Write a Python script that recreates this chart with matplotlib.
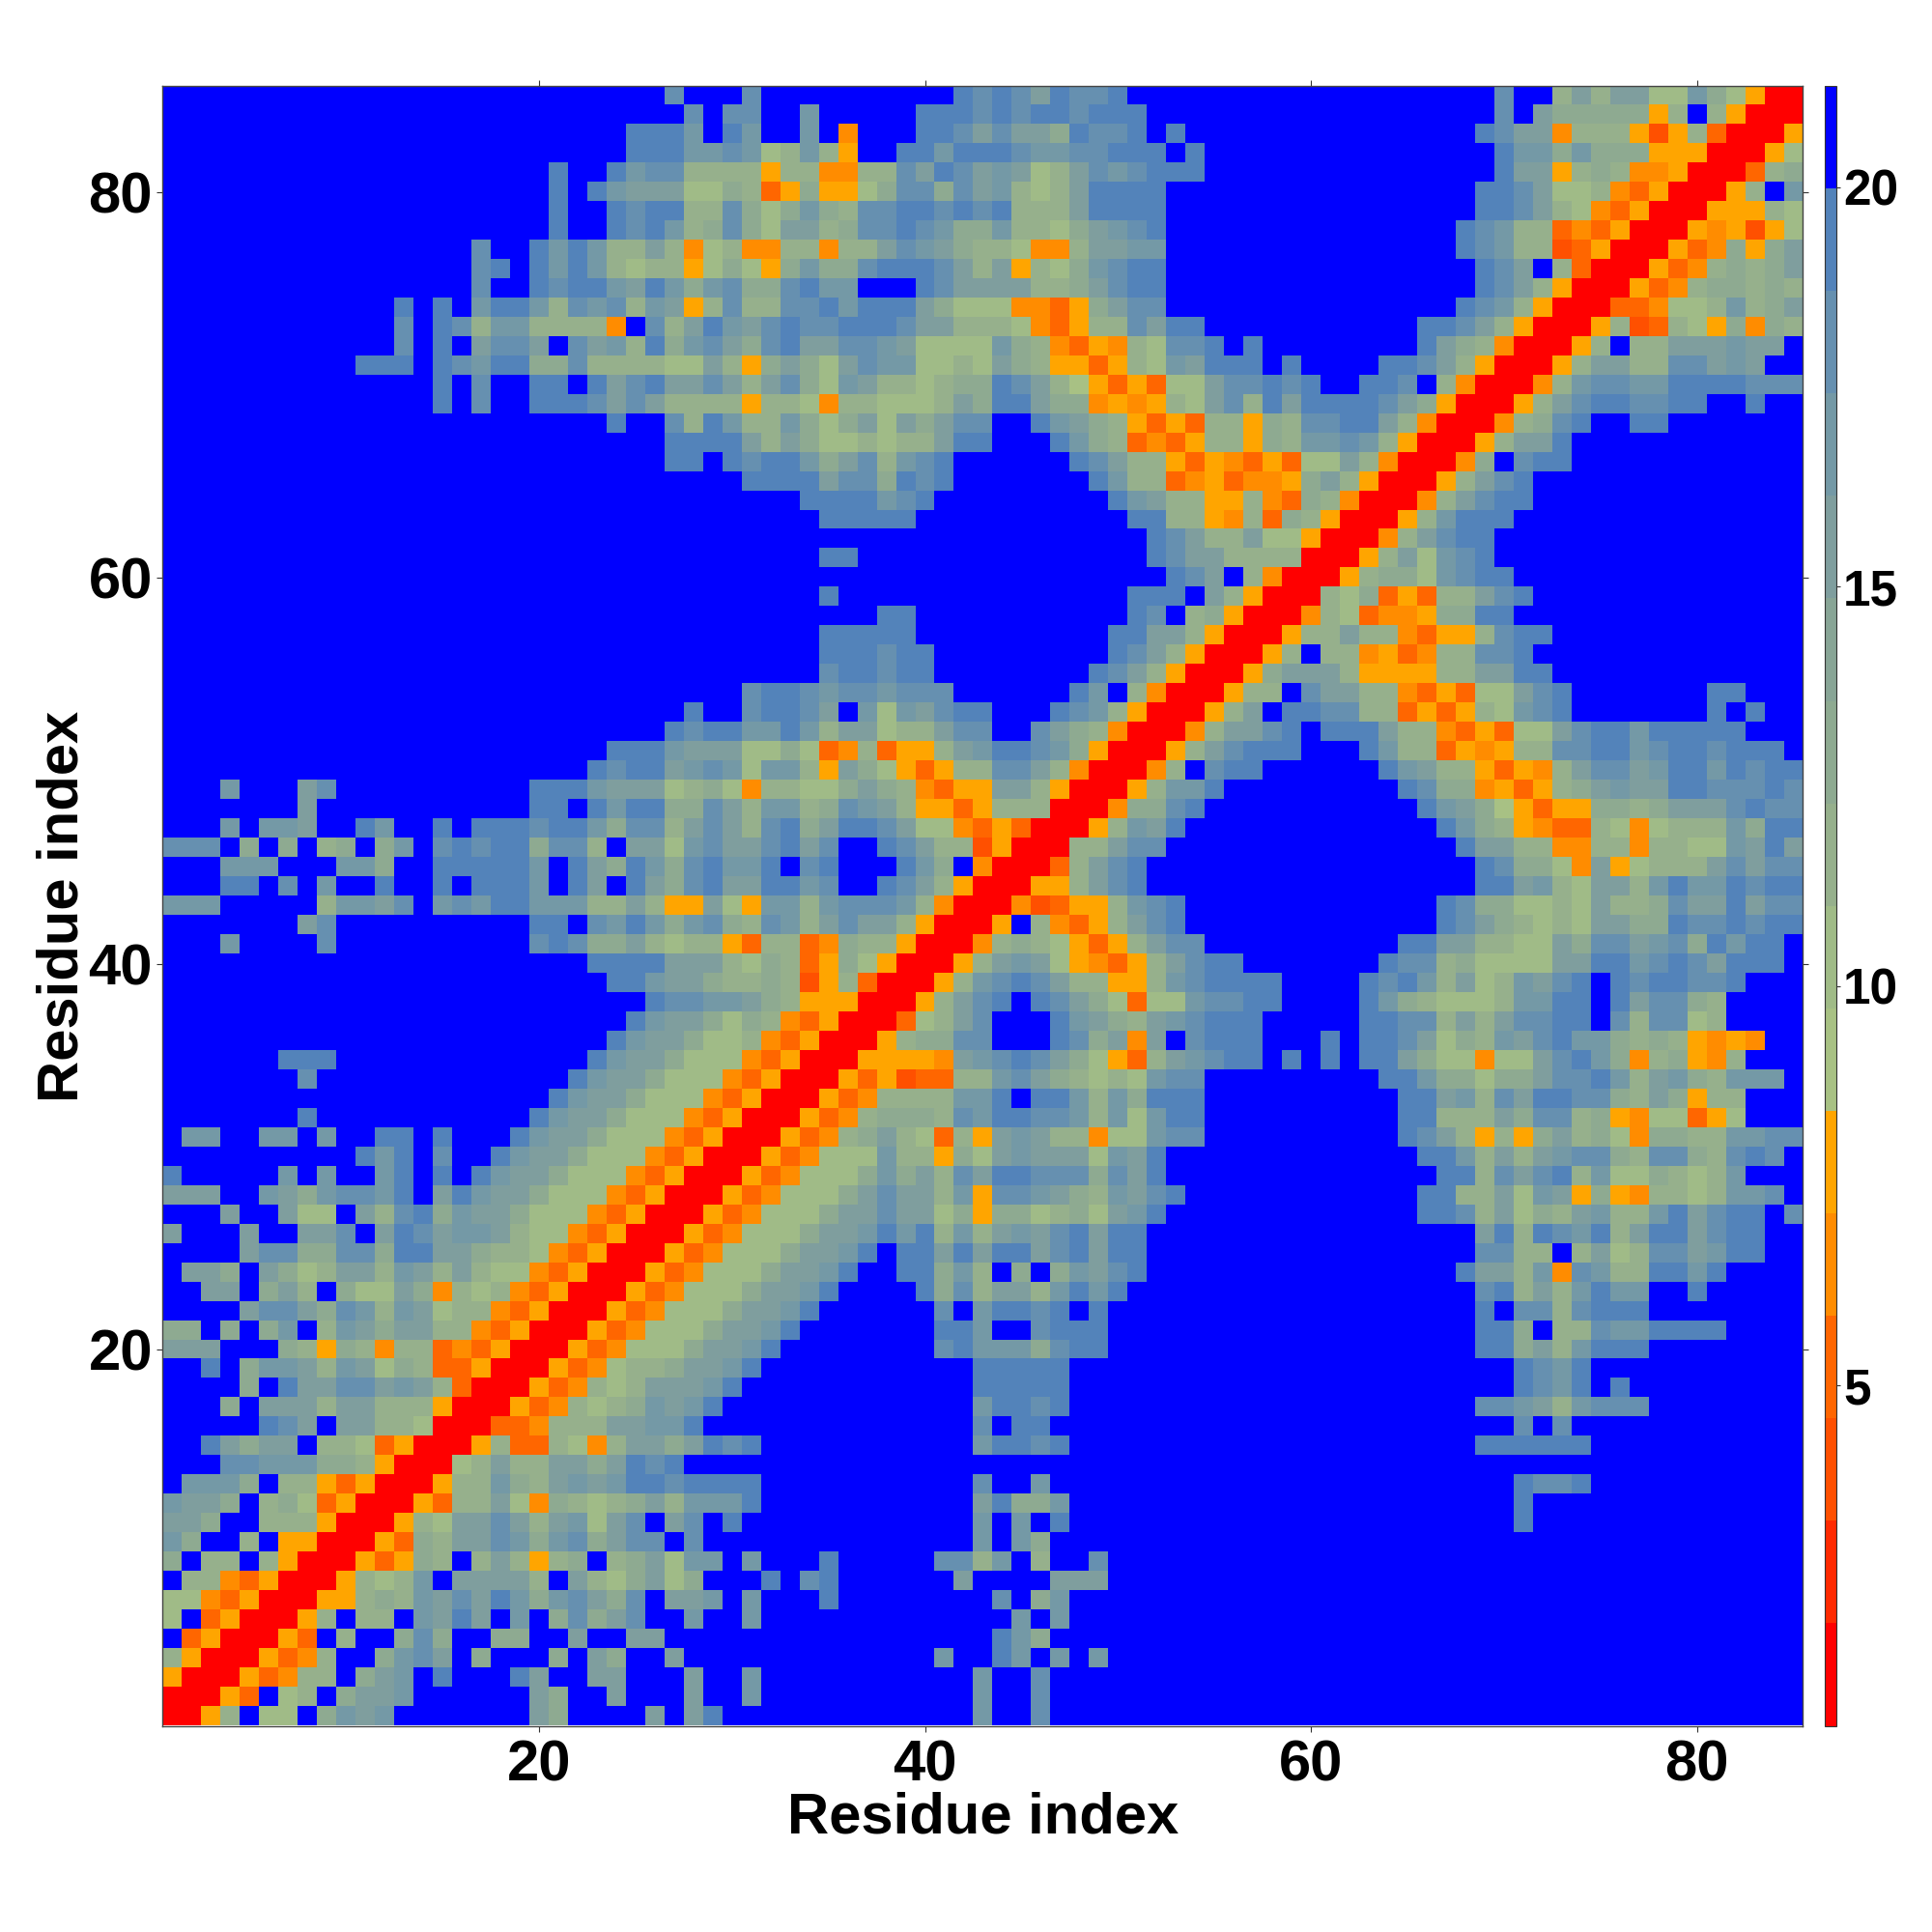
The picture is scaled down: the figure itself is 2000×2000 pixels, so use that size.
# -*- coding: utf-8 -*-
import numpy as np
import matplotlib
matplotlib.use("Agg")
import matplotlib.pyplot as plt
from matplotlib.colors import ListedColormap, BoundaryNorm

plt.rcParams['font.family'] = ['Liberation Sans', 'DejaVu Sans']
plt.rcParams['font.weight'] = 'bold'

# Data: distance classes. The map is symmetric, so only
# x <= y is kept, one string per residue y = 1 .. 85.
# r=closest, 2,3,4,e=oranges, 6,7,8,9,a,b,c,d=green to steel blue, f=beyond the scale
F = "f"
rows = [
    "r",
    "rr",
    "err",
    "8err",
    "f3err",
    "7f3err",
    "7743err",
    "f8843err",
    "9f88f8err",
    "b9ff8feerr",
    "aa9ff888er" + "r",
    "baa9f8973e" + "rr",
    "fbbb9f88e3" + "err",
    "fffccbbb99" + "8err",
    "ffda9aaf88" + "73err",
    "fffffdcafa" + "a887rr",
    "fff9faaa8a" + "a888err",
    "ffff9fdaac" + "caba83rr",
    "ffdf9bba8b" + "a79833err",
    "aaafff98e9" + "8488343err",
    "99f9f9bf8b" + "a9aa8843er" + "r",
    "ffffacca9c" + "b8ba78843e" + "rr",
    "ffaaf9a8f9" + "77a9487843" + "err",
    "faa9fa978a" + "a8ba8a8774" + "3err",
    "ffffacc99c" + "c9ddaa9887" + "43err",
    "afffaffaac" + "fadcabba87" + "743err",
    "fffaffa77f" + "a8cd9baa97" + "7743err",
    "aaaffba9bc" + "cbdfadbaa9" + "77743err",
    "dfffffbfbf" + "fbdfdfdbaa" + "977743err",
    F*10 + "dbdfcffdba" + "a977743err",
    "fbbffbbfbf" + "fddfdfffdb" + "aa977743er" + "r",
    F*7 + "dff" + F*9 + "d" + "baa977743e" + "rr",
    F*20 + "dbaa977743" + "err",
    F*7 + "cff" + F*10 + "fdbaa97774" + "3err",
    F*6 + "dddf" + F*10 + "ffdbaa9777" + "43err",
    F*20 + "fffdbaa977" + "843err",
    F*20 + "ffffdbaa97" + "9843err",
    F*20 + "fffffdccbb" + "a98eeerr",
    F*20 + "fffddbaa98" + "8982e83rr",
    F*20 + "ffddddaaa8" + "7983e97err",
    "fffbffffcf" + F*9 + "c" + "dc99a8788e" + "38834988er" + "r",
    F*7 + "acf" + F*9 + "d" + "dfcbdb9bc9" + "8cb8acaa8e" + "rr",
    "bbbfffff8b" + "bacfbcbddb" + "bb88a8eea7" + "ebb8bcccb8" + "4rr",
    "fffddfcfbf" + "fdffdfdddb" + "fdafda9cda" + "addbcffdca" + "8err",
    "fffbbbfffb" + "b9ffdddddb" + "fda9db9cdb" + "bdfcdfffdb" + "9f4rr",
    "cccf9f9f89" + "f9bfcdcdd9" + "cc8faa7bca" + "acdacffdca" + "882err",
    "fffbfbbaff" + "dbffdfdddc" + "ddb9cc8aca" + "8cd9addca7" + "743e3rr",
    F*7 + "aff" + F*9 + "d" + "dfdbdd99ca" + "8bb89cba8e" + "e3e888rr",
    "fffbfffacf" + F*9 + "d" + "ddbaaa7897" + "488779a984" + "3eeaa8err",
    F*20 + "ffdcddabcb" + "7bb8ea97e3" + "e88cca84rr",
    F*20 + "fffdddbaaa" + "77973483ee" + "8abddcb9er" + "r",
    F*26 + "dcdd" + "bbdb8aa788" + "accffca984" + "rr",
    F*27 + "dff" + "cddcafb7ba" + "cddfffdcb8" + "err",
    F*30 + "cddcbccbcc" + "cffffffdbf" + "84rr",
    F*30 + "ffffcddcdd" + F*8 + "dc" + "a8err",
    F*30 + "ffffdddcdd" + F*9 + "d" + "ca8err",
    F*30 + "ffffdddddf" + F*9 + "d" + "daa8err",
    F*30 + "fffffffddf" + F*10 + "dcf89err",
    F*30 + "ffffdfffff" + F*10 + "dddfa8err",
    F*50 + "ffdcaf84rr",
    F*30 + "ffffddffff" + F*10 + "fdcaa8888r" + "r",
    F*50 + "fdca88a77e" + "rr",
    F*30 + "ffffdddddf" + F*10 + "dd88e48398" + "err",
    F*30 + "fffddddbcd" + F*9 + "d" + "ba88ee8439" + "84rr",
    F*30 + "ddddacc9dc" + "dfffffffdb" + "8834e344e9" + "a8err",
    F*26 + "ddfd" + "cddb9ac8bc" + "dffffffdca" + "88e3e43e37" + "7a84rr",
    F*26 + "dddd" + "a8a9778788" + "addfffdb98" + "343e88e98b" + "bcb8err",
    F*23 + "dffc8db" + "88b979a7a9" + "accffdba98" + "e3e388e98c" + "cdda84rr",
    F*14 + "dfcffd" + "ddcaca8888" + "e887488777" + "8a9dda994e" + "4e87ac8dad" + "dddca9err",
    F*14 + "dfcffd" + "dfdacdaaca" + "8ac97ba887" + "899dca86e3" + "e377accdcd" + "ffddcf84rr",
    F*10 + "dddfdcbdd9" + "9c888877a8" + "e9a97acbb7" + "787a98ee3e" + "87badddfdf" + "fffddca8er" + "r",
    F*10 + "ffcfdfacca" + "fcab8d9bca" + "9cdaaccba7" + "777b9843e4" + "87ccdfdfff" + "fffffda984" + "rr",
    F*10 + "ffcfdc8bb8" + "8884fc8adb" + "acdccdddca" + "a888743e88" + "cadd" + F*6 + "fffffddca8" + "err",
    F*10 + "ffdfdfbddb" + "8cbc8bae8c" + "88ccdbddda" + "9777443e9a" + "cc" + F*8 + F*7 + "dcb" + "8err",
    F*16 + "cffd" + "cddbadb9bc" + "99cdbbfffd" + "caaaa889ac" + "dd" + F*8 + F*8 + "dc" + "a8err",
    F*16 + "cdfd" + "bdb8788e79" + "7e9b99cddd" + "ca8ae879bc" + "dd" + F*8 + F*8 + "dc" + "af83rr",
    F*16 + "cffd" + "bdb88a8478" + "4488488acb" + "a9887448aa" + "bb" + F*8 + F*7 + "dcb" + "8823err",
    F*20 + "dffdcdb89c" + "97aa89ccdc" + "b99b8879ab" + "cd" + F*8 + F*7 + "dcb" + "88343err",
    F*20 + "dffdcdd88c" + "979b98ccdd" + "cdcd888add" + "dd" + F*8 + F*8 + "dd" + "ca8743err",
    F*20 + "dfdbaaa779" + "83e9ee79cc" + "9cab878add" + "dd" + F*8 + F*8 + "dd" + "ca77843err",
    F*20 + "dffdbcc888" + "8e884488ca" + "dcaba78acb" + "cddd" + F*6 + F*9 + "d" + "aae89844er" + "r",
    F*24 + "dddbbc" + "b78b8effdd" + "bdddcbbccd" + "ddfd" + F*6 + F*9 + "d" + "bb9b999eee" + "rr",
    F*24 + "dddbfd" + "bffbf4fffd" + "dcacaa9dcc" + "dfd" + F*7 + F*8 + "dc" + "aa4888e2e8" + "3rr",
    F*27 + "cfc" + "cffbfffffd" + "ddcdcddcdd" + "d" + F*9 + F*9 + "c" + "fa99999e8f" + "8err",
    F*26 + "cfff" + "c" + F*9 + "fdcdcadccd" + F*10 + F*9 + "c" + "ff8a8aa77b" + "97err",
]

# one level per band of the colour bar, bottom to top
level_of = {'r': 0, '2': 2, '3': 3, '4': 4, 'e': 5, '6': 6, '7': 7, '8': 8,
            '9': 9, 'a': 11, 'b': 12, 'c': 13, 'd': 14, 'f': 15}
band_colors = ['#ff0000', '#ff2a00', '#ff5000', '#ff6600', '#ff8c00', '#ffa500',
               '#a8c184', '#a0bb87', '#96b08c', '#8eaa91', '#88a596', '#7f9e9e',
               '#7499a6', '#6690b0', '#5383ba', '#0000ff']
band_edges = [0.74 + 1.283 * k for k in range(17)]
cbar_ticks = [5, 10, 15, 20]
xy_ticks = [20, 40, 60, 80]
label = "Residue index"

n = 85
data = np.zeros((n, n))
for y in range(n):
    row = rows[y]
    assert len(row) == y + 1, (y + 1, len(row))
    for x in range(y + 1):
        k = level_of[row[x]]
        data[y, x] = data[x, y] = 0.5 * (band_edges[k] + band_edges[k + 1])

cmap = ListedColormap(band_colors)
norm = BoundaryNorm(band_edges, cmap.N)

fig = plt.figure(figsize=(10, 10), dpi=200)
W = H = 2000.0
ax = fig.add_axes([168.4 / W, 1 - 1786.5 / H, 1698.1 / W, 1697.5 / H])
im = ax.imshow(data, origin='lower', extent=(0.5, 85.5, 0.5, 85.5), aspect='auto',
               interpolation='nearest', cmap=cmap, norm=norm)
ax.set_xticks(xy_ticks)
ax.set_yticks(xy_ticks)
ax.tick_params(axis='both', direction='out', length=2.2, width=0.4, color='#333333',
               top=True, right=True, labelsize=21.5)
ax.tick_params(axis='x', pad=3)
ax.tick_params(axis='y', pad=1.5)
for s in ax.spines.values():
    s.set_linewidth(0.5)
    s.set_color('#444444')

fig.text(1018 / W, 1 - 1882 / H, label, fontsize=21.5, fontweight='bold', ha='center', va='center')
fig.text(65 / W, 1 - 938 / H, label, fontsize=21.5, fontweight='bold', ha='center', va='center', rotation=90)

cax = fig.add_axes([1889 / W, 1 - 1786.5 / H, 12 / W, 1697.5 / H])
cb = fig.colorbar(im, cax=cax, spacing='proportional', ticks=cbar_ticks, drawedges=False)
cb.ax.minorticks_off()
cb.ax.tick_params(direction='out', length=1.6, width=0.4, color='#333333', labelsize=18.5, pad=1)
cb.outline.set_linewidth(0.4)
cb.outline.set_edgecolor('#333333')
cb.set_ticklabels(['5', '10', '15', '20'])

fig.savefig("out.png", dpi=200)
